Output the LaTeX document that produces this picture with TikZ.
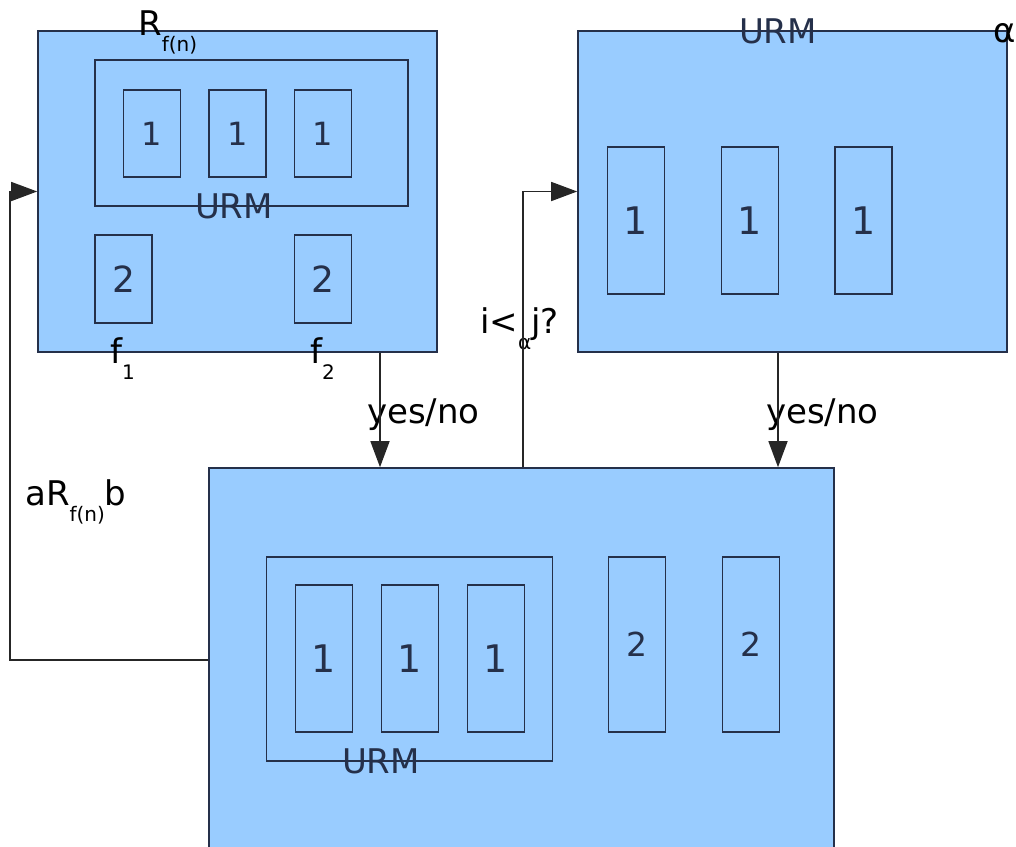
\documentclass[tikz,border=0pt]{standalone}
\usepackage{fontspec}
\setmainfont{DejaVu Sans}
\usetikzlibrary{arrows.meta}
\definecolor{boxfill}{HTML}{99CCFF}
\definecolor{boxline}{HTML}{25304A}
\newcommand{\mainsz}{\fontsize{34}{40}\selectfont}
\newcommand{\subsz}{\fontsize{20}{24}\selectfont}
\newcommand{\sbs}[1]{\raisebox{-16pt}{\subsz #1}}
\tikzset{
  blk/.style={draw=boxline, fill=boxfill, line width=1.6pt, inner sep=0pt, text=boxline},
  cellA/.style={blk, minimum width=57pt, minimum height=87pt, font=\fontsize{32}{32}\selectfont},
  cellAb/.style={blk, minimum width=57pt, minimum height=88pt, font=\fontsize{36}{36}\selectfont},
  cellB/.style={blk, minimum width=57pt, minimum height=147pt, font=\fontsize{38}{38}\selectfont},
  cellC/.style={blk, minimum width=57pt, minimum height=175pt, font=\fontsize{33}{33}\selectfont},
  txt/.style={inner sep=0pt, anchor=base west, font=\mainsz, text=black},
  ctxt/.style={inner sep=0pt, anchor=base, font=\mainsz, text=black},
  conn/.style={line width=1.5pt, draw=black!85, -{Triangle[length=26pt,width=19pt]}}
}
\begin{document}
\begin{tikzpicture}[x=1pt,y=-1pt]
\useasboundingbox (0,0) rectangle (1016,846);
\clip (0,0) rectangle (1016,846);
% Box A (top left)
\node[blk, minimum width=399pt, minimum height=321pt] (A) at (237.5,191.5) {};
\node[blk, minimum width=313pt, minimum height=146pt] (Au) at (251.5,133) {};
\node[cellA] (A1) at (152,133.5) {1};
\node[cellA] (A2) at (237.5,133.5) {1};
\node[cellA] (A3) at (323,133.5) {1};
\node[cellAb] (A4) at (123.5,279) {2};
\node[cellAb] (A5) at (323,279) {2};
% Box B (top right)
\node[blk, minimum width=429pt, minimum height=321pt] (B) at (792.5,191.5) {};
\node[cellB] (B1) at (636,220.5) {1};
\node[cellB] (B2) at (750,220.5) {1};
\node[cellB] (B3) at (863.5,220.5) {1};
% Box C (bottom)
\node[blk, minimum width=625pt, minimum height=384pt] (C) at (521.5,660) {};
\node[blk, minimum width=286pt, minimum height=204pt] (Cu) at (409.5,659) {};
\node[cellB] (C1) at (324,658.5) {1};
\node[cellB] (C2) at (410,658.5) {1};
\node[cellB] (C3) at (496,658.5) {1};
\node[cellC] (C4) at (637,644.5) {2};
\node[cellC] (C5) at (751,644.5) {2};
% labels
\node[ctxt, text=boxline] (lAu) at (234,218) {URM};
\node[ctxt, text=boxline] (lB) at (778,43) {URM};
\node[ctxt, text=boxline] (lCu) at (381,773) {URM};
\node[txt] (lalpha) at (993,42) {α};
\node[txt] (lR) at (138,35) {R\sbs{f(n)}};
\node[txt] (lf1) at (110,363) {f\sbs{1}};
\node[txt] (lf2) at (310,363) {f\sbs{2}};
\node[txt] (lyes1) at (367,423) {yes/no};
\node[txt] (lyes2) at (766,423) {yes/no};
\node[txt] (lij) at (480,333) {i<\sbs{α}j?};
\node[txt] (laRb) at (25,505) {aR\sbs{f(n)}b};
% connectors
\coordinate (p1) at (380,0);
\coordinate (p2) at (778,0);
\coordinate (q) at (523,191);
\coordinate (r) at (10,659);
\draw[conn] (A.south -| p1) -- (C.north -| p1);
\draw[conn] (B.south -| p2) -- (C.north -| p2);
\draw[conn] (C.north -| q) |- (B.west);
\draw[conn] (C.west) -- (C.west -| r) |- (A.west);
\end{tikzpicture}
\end{document}
